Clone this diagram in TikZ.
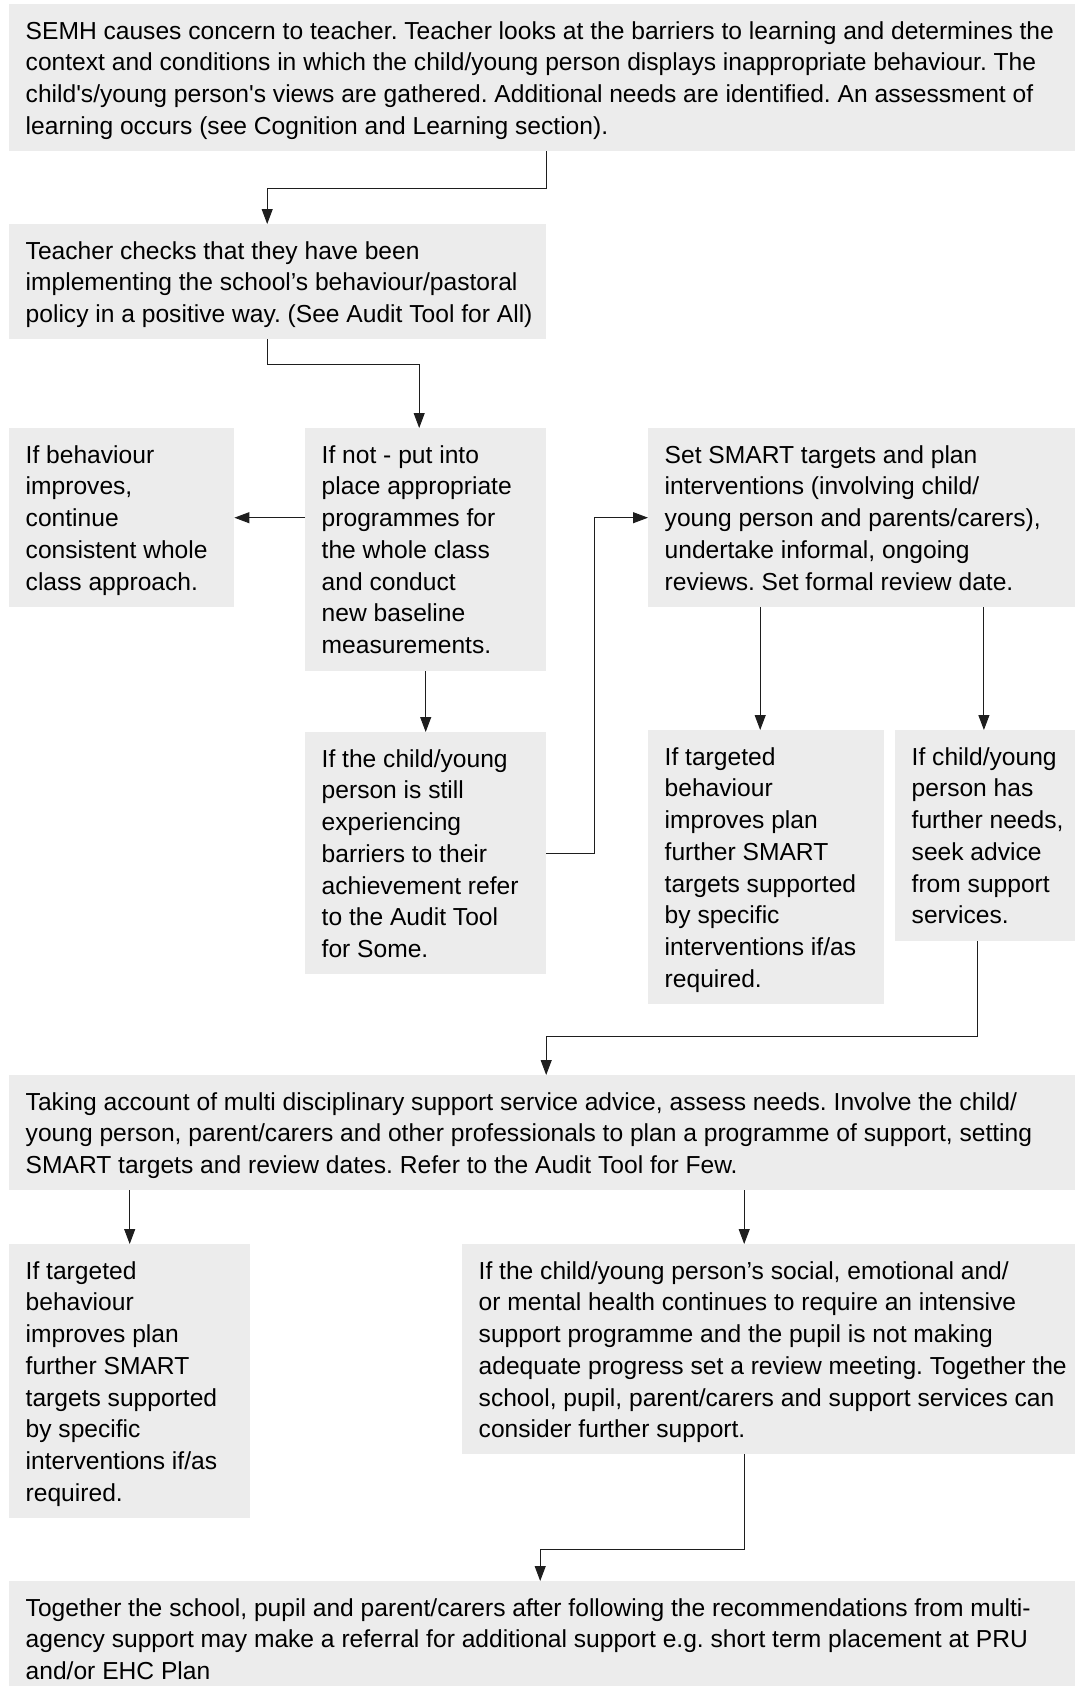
\documentclass[tikz,border=0pt]{standalone}
\usepackage{fontspec}
\setmainfont{Liberation Sans}
\usetikzlibrary{arrows.meta}
\definecolor{boxgray}{RGB}{236,236,236}
\definecolor{linegray}{RGB}{30,30,30}
\begin{document}
\frenchspacing
\begin{tikzpicture}[x=1pt,y=-1pt,
  panel/.style={fill=boxgray, draw=none, inner sep=0pt, anchor=north west},
  paneltext/.style={anchor=north west, inner sep=0pt, align=left, text=black,
    font=\fontsize{24.6}{31.7}\selectfont},
  conn/.style={draw=linegray, line width=1pt, -{Triangle[length=15pt,width=11pt]}}]
\useasboundingbox (0,0) rectangle (1075,1686);

% a grey panel with its text block, first baseline 35pt below the top edge
\newcommand\panel[6]{%
  \node[panel, minimum width=#4pt, minimum height=#5pt] (#1) at (#2,#3) {};
  \node[paneltext] (#1-t) at ([xshift=16.5pt,yshift=-15pt]#1.north west) {\rule{0pt}{20pt}#6};
}

\panel{A}{9}{4}{1066}{147}{SEMH causes concern to teacher. Teacher looks at the barriers to learning and determines the\\
context and conditions in which the child/young person displays inappropriate behaviour. The\\
child\textquotesingle s/young person\textquotesingle s views are gathered. Additional needs are identified. An assessment of\\
learning occurs (see Cognition and Learning section).}

\panel{B}{9}{224}{537}{115}{Teacher checks that they have been\\
implementing the school’s behaviour/pastoral\\
policy in a positive way. (See Audit Tool for All)}

\panel{C}{9}{428}{225}{179}{If behaviour\\improves,\\continue\\consistent whole\\class approach.}

\panel{D}{305}{428}{241}{243}{If not - put into\\place appropriate\\programmes for\\the whole class\\and conduct\\new baseline\\measurements.}

\panel{E}{648}{428}{427}{179}{Set SMART targets and plan\\
interventions (involving child/\\
young person and parents/carers),\\
undertake informal, ongoing\\
reviews. Set formal review date.}

\panel{F}{305}{732}{241}{242}{If the child/young\\person is still\\experiencing\\barriers to their\\achievement refer\\to the Audit Tool\\for Some.}

\panel{G}{648}{730}{236}{274}{If targeted\\behaviour\\improves plan\\further SMART\\targets supported\\by specific\\interventions if/as\\required.}

\panel{H}{895}{730}{180}{211}{If child/young\\person has\\further needs,\\seek advice\\from support\\services.}

\panel{I}{9}{1075}{1066}{115}{Taking account of multi disciplinary support service advice, assess needs. Involve the child/\\
young person, parent/carers and other professionals to plan a programme of support, setting\\
SMART targets and review dates. Refer to the Audit Tool for Few.}

\panel{J}{9}{1244}{241}{274}{If targeted\\behaviour\\improves plan\\further SMART\\targets supported\\by specific\\interventions if/as\\required.}

\panel{K}{462}{1244}{613}{210}{If the child/young person’s social, emotional and/\\
or mental health continues to require an intensive\\
support programme and the pupil is not making\\
adequate progress set a review meeting. Together the\\
school, pupil, parent/carers and support services can\\
consider further support.}

\panel{L}{9}{1581}{1066}{105}{Together the school, pupil and parent/carers after following the recommendations from multi-\\
agency support may make a referral for additional support e.g. short term placement at PRU\\
and/or EHC Plan}

% connectors
\draw[conn] (B.north east |- A.south) -- ++(0,37) -| ([xshift=-10.5pt]B.north);
\draw[conn] ([xshift=-10pt]B.south) -- ++(0,25) -| ([xshift=-6.5pt]D.north);
\draw[conn] (D.west |- C.east) -- (C.east);
\draw[conn] (D.south) -- (F.north);
\draw[conn] (F.east) -- ++(48,0) |- (E.west);
\draw[conn] ([xshift=-6pt]G.north |- E.south) -- ([xshift=-6pt]G.north);
\draw[conn] ([xshift=-1.3pt]H.north |- E.south) -- ([xshift=-1.3pt]H.north);
\draw[conn] ([xshift=-7.5pt]H.south) -- ++(0,95) -| ([xshift=4pt]I.north);
\draw[conn] (J.north |- I.south) -- (J.north);
\draw[conn] ([xshift=-24.5pt]K.north |- I.south) -- ([xshift=-24.5pt]K.north);
\draw[conn] ([xshift=-24.5pt]K.south) -- ++(0,94.7) -| ([xshift=-2pt]L.north);
\end{tikzpicture}
\end{document}
